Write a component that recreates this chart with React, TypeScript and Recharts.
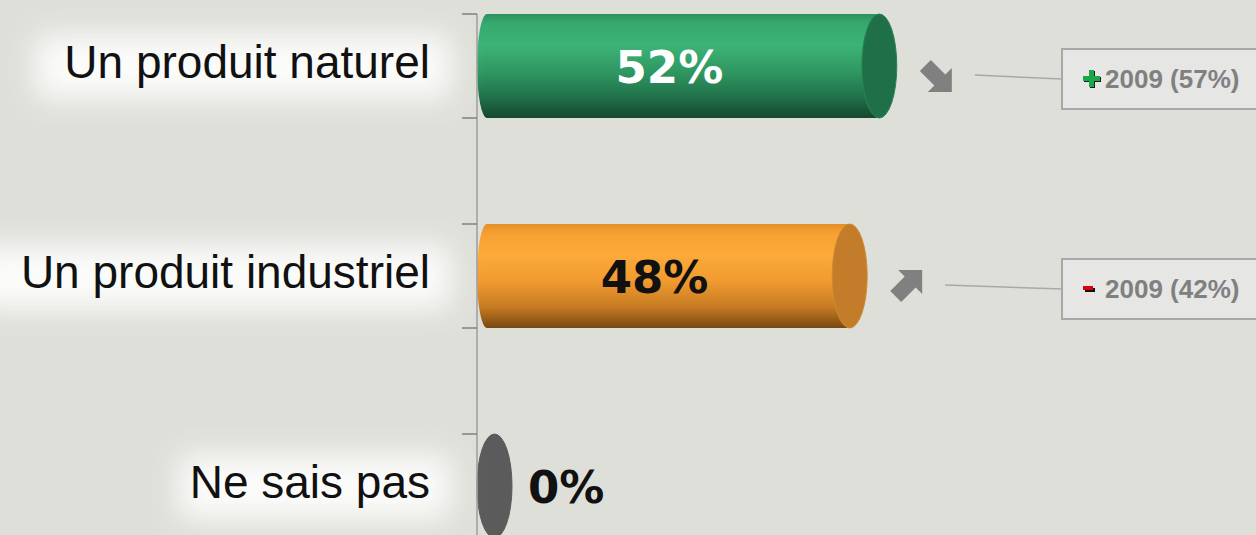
import React from 'react';
import { BarChart, Bar, XAxis, YAxis } from 'recharts';

// ---- data ----
const categories = ['Un produit naturel', 'Un produit industriel', 'Ne sais pas'];
const currentValues = [52, 48, 0];
const values2009: (number | null)[] = [57, 42, null];
const compareYear = '2009';

// ---- styles ----
const BG = '#dfdfd9';
const CHART_W = 1256;
const CHART_H = 630;
const TOP_SHIFT = -39;
const AXIS_W = 477;
const RIGHT_M = 39;
const BAND = CHART_H / categories.length;
const BAR_SIZE = 104;
const CAP_RX = 17.5;
const LEFT_RX = 10;
const BOX_X = 1062;

const gradStops = [
  [
    ['0%', '#2c9060'], ['8%', '#36a86e'], ['30%', '#3db377'], ['55%', '#2f9862'], ['80%', '#21714a'], ['100%', '#16472f'],
  ],
  [
    ['0%', '#e58f28'], ['10%', '#f7a134'], ['30%', '#fcaa3a'], ['55%', '#f09a30'], ['80%', '#c67b22'], ['100%', '#774812'],
  ],
  [
    ['0%', '#5b5b5b'], ['100%', '#5b5b5b'],
  ],
];
const capFill = ['#1f7049', '#c27c2a', '#5b5b5b'];
const capStroke = ['#2a8557', '#cf8a32', '#5b5b5b'];
const valueLabelColor = ['#ffffff', '#111111', '#111111'];

const data = categories.map((name, i) => ({
  name,
  value: currentValues[i],
  prev: values2009[i],
}));

function CatTick(props: any) {
  const { y, payload, index } = props;
  const label: string = payload.value;
  const textRight = 430;
  const w = label.length * 20.5;
  const top = y - BAR_SIZE / 2;
  const bottom = y + BAR_SIZE / 2;
  return (
    <g>
      <defs>
        <filter id={`glow${index}`} x="-30%" y="-150%" width="160%" height="400%">
          <feGaussianBlur stdDeviation="15" />
        </filter>
      </defs>
      <rect
        x={textRight - w - 25}
        y={y - 30}
        width={w + 45}
        height={62}
        fill="#ffffff"
        opacity={0.9}
        filter={`url(#glow${index})`}
      />
      <text
        x={textRight}
        y={y + 12}
        textAnchor="end"
        fontFamily="'Liberation Sans', Arial, sans-serif"
        fontSize={46}
        fill="#111111"
      >
        {label}
      </text>
      <line x1={AXIS_W} x2={AXIS_W} y1={top} y2={top + BAND} stroke="#a0a0a0" strokeWidth={1.6} />
      <line x1={462} x2={AXIS_W} y1={top} y2={top} stroke="#808080" strokeWidth={1.5} />
      <line x1={462} x2={AXIS_W} y1={bottom} y2={bottom} stroke="#808080" strokeWidth={1.5} />
    </g>
  );
}

function ArrowIcon({ x, y, down }: { x: number; y: number; down: boolean }) {
  // 32x32 block arrow pointing down-right (or up-right)
  const shaft = [[0, 11], [11, 0], [26, 15], [15, 26]];
  const head = [[32, 8], [32, 32], [8, 32]];
  const tr = (pts: number[][]) =>
    pts.map(([px, py]) => `${x + px},${down ? y + py : y + 32 - py}`).join(' ');
  return (
    <g fill="#808080">
      <polygon points={tr(shaft)} />
      <polygon points={tr(head)} />
    </g>
  );
}

function CylinderShape(props: any) {
  const { x, y, width, height, index, payload } = props;
  const cy = y + height / 2;
  const ry = height / 2;
  const w = Math.max(0, width || 0);
  const capCx = x + CAP_RX + w;
  const v: number = payload.value;
  const prev: number | null = payload.prev;
  const gid = `cyl${index}`;
  const top = cy - ry;
  const bot = cy + ry;
  const bodyPath = `M ${x + LEFT_RX} ${top} L ${capCx} ${top} L ${capCx} ${bot} L ${x + LEFT_RX} ${bot} A ${LEFT_RX} ${ry} 0 0 1 ${x + LEFT_RX} ${top} Z`;

  const fontProps = {
    fontFamily: "'DejaVu Sans', Verdana, sans-serif",
    fontWeight: 700,
    fontSize: 45,
  };

  let callout = null;
  if (prev !== null && prev !== undefined) {
    const down = prev > v;
    const barEnd = capCx + CAP_RX;
    const ax = barEnd + 23;
    const ay = cy + 10 - 16;
    const boxCy = cy + 13;
    callout = (
      <g>
        <ArrowIcon x={ax} y={ay} down={down} />
        <line x1={ax + 55} y1={cy + 9} x2={BOX_X} y2={boxCy} stroke="#a8a8a8" strokeWidth={1.5} />
        <rect x={BOX_X} y={boxCy - 30} width={220} height={60} fill="#e6e6e4" stroke="#a8a8a8" strokeWidth={2} />
        {down ? (
          <g>
            <rect x={BOX_X + 22} y={boxCy - 2} width={17} height={5} fill="#1b1b1b" />
            <rect x={BOX_X + 28} y={boxCy - 8} width={5} height={17} fill="#1b1b1b" />
            <rect x={BOX_X + 21} y={boxCy - 3} width={17} height={5} fill="#1aa64a" />
            <rect x={BOX_X + 27} y={boxCy - 9} width={5} height={17} fill="#1aa64a" />
          </g>
        ) : (
          <g>
            <rect x={BOX_X + 23} y={boxCy - 1} width={10} height={4} fill="#111111" />
            <rect x={BOX_X + 21} y={boxCy - 3} width={10} height={4} fill="#e00000" />
          </g>
        )}
        <text
          x={BOX_X + 43}
          y={boxCy + 9}
          fontFamily="'Liberation Sans', Arial, sans-serif"
          fontWeight={700}
          fontSize={26}
          fill="#808080"
        >
          {`${compareYear} (${prev}%)`}
        </text>
      </g>
    );
  }

  return (
    <g>
      <defs>
        <linearGradient id={gid} x1="0" y1="0" x2="0" y2="1">
          {gradStops[index].map(([o, c]) => (
            <stop key={o} offset={o} stopColor={c} />
          ))}
        </linearGradient>
      </defs>
      {v > 0 && <path d={bodyPath} fill={`url(#${gid})`} />}
      <ellipse cx={capCx} cy={cy} rx={CAP_RX} ry={ry} fill={capFill[index]} stroke={capStroke[index]} strokeWidth={1} />
      {v > 0 ? (
        <text
          x={(x + capCx - CAP_RX) / 2}
          y={cy + 17}
          textAnchor="middle"
          fill={valueLabelColor[index]}
          {...fontProps}
        >
          {`${v}%`}
        </text>
      ) : (
        <text x={capCx + CAP_RX + 16} y={cy + 17} textAnchor="start" fill={valueLabelColor[index]} {...fontProps}>
          {`${v}%`}
        </text>
      )}
      {callout}
    </g>
  );
}

export default function App() {
  return (
    <div
      style={{
        position: 'absolute',
        left: 0,
        top: 0,
        width: CHART_W,
        height: 535,
        overflow: 'hidden',
        background: BG,
      }}
    >
      <div style={{ position: 'absolute', left: 0, top: TOP_SHIFT }}>
        <BarChart
          width={CHART_W}
          height={CHART_H}
          data={data}
          layout="vertical"
          margin={{ top: 0, right: RIGHT_M, bottom: 0, left: 0 }}
          barSize={BAR_SIZE}
        >
          <XAxis type="number" domain={[0, 100]} hide />
          <YAxis
            type="category"
            dataKey="name"
            width={AXIS_W}
            axisLine={false}
            tickLine={false}
            tickSize={0}
            tickMargin={0}
            interval={0}
            tick={<CatTick />}
          />
          <Bar dataKey="value" isAnimationActive={false} shape={<CylinderShape />} />
        </BarChart>
      </div>
    </div>
  );
}
